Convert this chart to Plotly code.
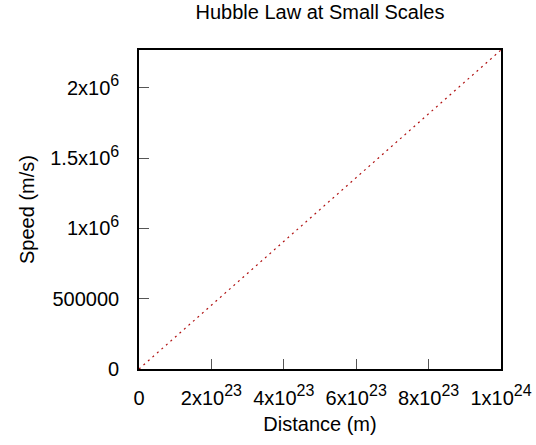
import plotly.graph_objects as go

# Hubble law v = H0 * d, with H0 = 70 km/s/Mpc expressed in SI units
distance_m = [0.0, 1.0e24]
speed_ms = [0.0, 2.2685e6]

SUP = '<sup><span style="font-size:16px">{}</span></sup>'

x_tick_vals = [0, 2e23, 4e23, 6e23, 8e23, 1e24]
x_tick_text = ["0"] + [f"{m}x10" + SUP.format(e) for m, e in
                       [("2", 23), ("4", 23), ("6", 23), ("8", 23), ("1", 24)]]
y_tick_vals = [0, 5e5, 1e6, 1.5e6, 2e6]
y_tick_text = ["0", "500000"] + [f"{m}x10" + SUP.format(6) for m in ["1", "1.5", "2"]]

FONT = "Liberation Sans, Arial, sans-serif"
SIZE = 20

fig = go.Figure()
fig.add_trace(go.Scatter(
    x=distance_m, y=speed_ms, mode="lines",
    line=dict(color="#b01010", width=1.2, dash="2px,4px"),
    showlegend=False, hoverinfo="skip",
))

axis_common = dict(
    showgrid=False, zeroline=False, automargin=False,
    showline=True, linecolor="black", linewidth=1.6, mirror=True,
    ticks="inside", ticklen=10, tickwidth=1, tickcolor="#555555",
    tickfont=dict(family=FONT, size=SIZE, color="black"),
)

fig.update_layout(
    width=536, height=445,
    margin=dict(l=139, r=35, t=50, b=76),
    paper_bgcolor="white", plot_bgcolor="white",
    font=dict(family=FONT, color="black", size=SIZE),
    title=dict(text="Hubble Law at Small Scales", x=0.597, xanchor="center",
               y=0.974, yanchor="middle", font=dict(family=FONT, size=SIZE)),
    xaxis=dict(range=[0, 1e24], tickvals=x_tick_vals, ticktext=x_tick_text,
               title=dict(text="Distance (m)", font=dict(family=FONT, size=SIZE), standoff=9),
               ticklabelstandoff=10, **axis_common),
    yaxis=dict(range=[0, 2.2685e6], tickvals=y_tick_vals, ticktext=y_tick_text,
               title=dict(text="Speed (m/s)", font=dict(family=FONT, size=SIZE), standoff=10),
               ticklabelstandoff=14, **axis_common),
)

fig.write_html("out.html")
